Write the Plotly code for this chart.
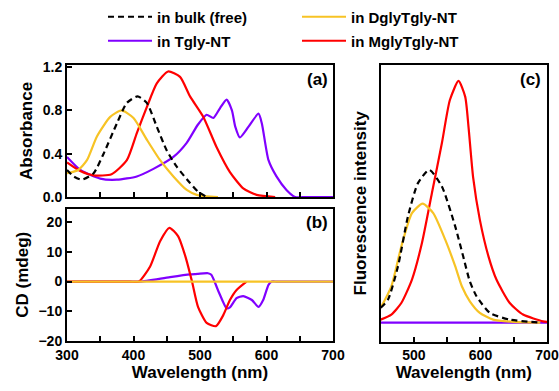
import plotly.graph_objects as go

# ---------------- data ----------------
# (a) absorbance
abs_bulk_wl = [300, 310, 322, 340, 355, 375, 390, 406, 420, 435, 450, 465, 485, 497, 510]
abs_bulk = [0.25, 0.19, 0.16, 0.22, 0.40, 0.68, 0.87, 0.93, 0.87, 0.65, 0.43, 0.28, 0.13, 0.05, 0.0]

abs_dgly_wl = [300, 317, 330, 345, 365, 382, 400, 420, 440, 460, 480, 495, 510, 527]
abs_dgly = [0.22, 0.25, 0.34, 0.56, 0.74, 0.80, 0.73, 0.53, 0.34, 0.19, 0.065, 0.02, 0.005, 0.0]

abs_tgly_wl = [300, 320, 350, 375, 405, 430, 460, 480, 497, 510, 520, 530, 540, 548, 553, 560,
               573, 588, 593, 603, 615, 630, 643, 660, 700]
abs_tgly = [0.37, 0.25, 0.17, 0.16, 0.19, 0.26, 0.37, 0.50, 0.67, 0.76, 0.73, 0.82, 0.90, 0.80,
            0.65, 0.55, 0.65, 0.77, 0.68, 0.34, 0.19, 0.065, 0.0, 0.0, 0.0]

abs_mgly_wl = [300, 320, 340, 367, 390, 405, 420, 435, 452, 470, 485, 505, 525, 545, 565, 585, 613]
abs_mgly = [0.32, 0.24, 0.20, 0.21, 0.34, 0.59, 0.83, 1.05, 1.16, 1.11, 0.93, 0.74, 0.46, 0.23,
            0.08, 0.02, 0.0]

# (b) circular dichroism
cd_dgly_wl = [300, 700]
cd_dgly = [0, 0]

cd_tgly_wl = [300, 350, 400, 410, 455, 485, 497, 512, 517, 528, 540, 545, 555, 565, 578, 588, 595,
              603, 608, 615, 650, 700]
cd_tgly = [0, 0, 0, 0, 1.5, 2.4, 2.6, 2.8, 2.3, -3.4, -9.0, -8.7, -5.6, -4.9, -6.2, -8.5, -6.2,
           -1.1, 0, 0, 0, 0]

cd_mgly_wl = [300, 350, 395, 408, 425, 440, 454, 467, 478, 488, 497, 510, 524, 535, 545, 555, 570]
cd_mgly = [0, 0, 0, 0, 5.1, 13.6, 18.1, 15.3, 8.5, 0, -8.5, -13.9, -15.0, -11.3, -6.2, -2.8, 0]

# (c) fluorescence
fl_bulk_wl = [450, 461, 476, 491, 506, 523, 542, 562, 574, 584, 594, 614, 644, 690]
fl_bulk = [0.061, 0.095, 0.233, 0.44, 0.577, 0.632, 0.563, 0.398, 0.274, 0.17, 0.109, 0.04, 0.012, 0.0]

fl_dgly_wl = [450, 466, 481, 497, 513, 529, 547, 562, 572, 584, 599, 619, 650, 690]
fl_dgly = [0.061, 0.15, 0.315, 0.453, 0.492, 0.453, 0.343, 0.233, 0.15, 0.088, 0.04, 0.012, 0.003, 0.0]

fl_tgly_wl = [450, 700]
fl_tgly = [0, 0]

fl_mgly_wl = [450, 466, 481, 497, 512, 527, 542, 554, 567, 577, 582, 589, 599, 612, 624, 644, 664, 694, 700]
fl_mgly = [0.012, 0.033, 0.081, 0.178, 0.329, 0.536, 0.743, 0.921, 1.0, 0.935, 0.81, 0.60, 0.426,
           0.274, 0.178, 0.081, 0.033, 0.005, 0.003]

names = ["in bulk (free)", "in DglyTgly-NT", "in Tgly-NT", "in MglyTgly-NT"]
colors = {"bulk": "#000000", "dgly": "#F7C325", "tgly": "#8000FF", "mgly": "#FF0000"}

x_ticks = [300, 350, 400, 450, 500, 550, 600, 650, 700]
x_ticktext = ["300", "", "400", "", "500", "", "600", "", "700"]

# ---------------- figure ----------------
FONT = "Liberation Sans, Arial, sans-serif"
fig = go.Figure()
LW = 2.2


def add(x, y, key, xa, ya, name=None, legend=None, dash="solid"):
    fig.add_trace(go.Scatter(
        x=x, y=y, mode="lines", xaxis=xa, yaxis=ya,
        line=dict(color=colors[key], width=LW, dash=dash, shape="spline", smoothing=0.6),
        name=name, showlegend=legend is not None, legend=legend or "legend",
        hoverinfo="skip"))


DASH = "6px,4px"
# panel a
add(abs_tgly_wl, abs_tgly, "tgly", "x", "y", names[2], "legend2")
add(abs_mgly_wl, abs_mgly, "mgly", "x", "y", names[3], "legend4")
add(abs_dgly_wl, abs_dgly, "dgly", "x", "y", names[1], "legend3")
add(abs_bulk_wl, abs_bulk, "bulk", "x", "y", names[0], "legend", dash=DASH)
# panel b
add(cd_tgly_wl, cd_tgly, "tgly", "x2", "y2")
add(cd_mgly_wl, cd_mgly, "mgly", "x2", "y2")
add(cd_dgly_wl, cd_dgly, "dgly", "x2", "y2")
# panel c
add(fl_tgly_wl, fl_tgly, "tgly", "x3", "y3")
add(fl_mgly_wl, fl_mgly, "mgly", "x3", "y3")
add(fl_dgly_wl, fl_dgly, "dgly", "x3", "y3")
add(fl_bulk_wl, fl_bulk, "bulk", "x3", "y3", dash=DASH)

W, H = 559, 391
def px(x):
    return x / W
def py(y):
    return 1 - y / H

tickfont = dict(family=FONT, size=14, color="black", weight="bold")
titlefont = dict(family=FONT, size=17, color="black", weight="bold")
axis_common = dict(showline=True, linecolor="black", linewidth=2, mirror=True,
                   ticks="inside", ticklen=5, tickwidth=1.5, tickcolor="black",
                   showgrid=False, zeroline=False, tickfont=tickfont, automargin=False)

xa_dom = [px(67), px(333)]
xc_dom = [px(380.7), px(547)]

fig.update_layout(
    width=W, height=H, margin=dict(l=0, r=0, t=0, b=0, autoexpand=False),
    plot_bgcolor="white", paper_bgcolor="white",
    font=dict(family=FONT, color="black"),
    xaxis=dict(domain=xa_dom, range=[300, 700], anchor="y", tickvals=x_ticks,
               showticklabels=False, **axis_common),
    yaxis=dict(domain=[py(197), py(65)], range=[0, 1.22], anchor="x",
               tickvals=[0, 0.4, 0.8, 1.2], ticktext=["0.0", "0.4", "0.8", "1.2"],
               title=dict(text="Absorbance", font=titlefont, standoff=6), **axis_common),
    xaxis2=dict(domain=xa_dom, range=[300, 700], anchor="y2", tickvals=x_ticks,
                ticktext=x_ticktext,
                title=dict(text="Wavelength (nm)", font=titlefont, standoff=4), **axis_common),
    yaxis2=dict(domain=[py(341), py(208.5)], range=[-20, 24.6], anchor="x2",
                tickvals=[-20, -10, 0, 10, 20],
                title=dict(text="CD (mdeg)", font=titlefont, standoff=6), **axis_common),
    xaxis3=dict(domain=xc_dom, range=[450, 700], anchor="y3",
                tickvals=[450, 500, 550, 600, 650, 700],
                ticktext=["", "500", "", "600", "", "700"],
                title=dict(text="Wavelength (nm)", font=titlefont, standoff=4), **axis_common),
    yaxis3=dict(domain=[py(341.5), py(65)], range=[-0.0785, 1.066], anchor="x3",
                showticklabels=False, ticks="", automargin=False,
                showline=True, linecolor="black", linewidth=2, mirror=True,
                showgrid=False, zeroline=False,
                title=dict(text="Fluorescence intensity", font=titlefont, standoff=8)),
    showlegend=True,
)

legfont = dict(family=FONT, size=15, color="black", weight="bold")
legpos = {"legend": (103, 17), "legend2": (103, 41), "legend3": (297, 17), "legend4": (297, 41)}
for k, (lx, ly) in legpos.items():
    fig.update_layout({k: dict(x=px(lx), y=py(ly), xanchor="left", yanchor="middle",
                               font=legfont, bgcolor="rgba(0,0,0,0)", borderwidth=0,
                               itemwidth=44)})

for txt, ax, ay in [("(a)", 330, 80), ("(b)", 330, 222), ("(c)", 543, 80)]:
    fig.add_annotation(text=txt, x=px(ax), y=py(ay), xref="paper", yref="paper",
                       xanchor="right", yanchor="middle", showarrow=False,
                       font=dict(family=FONT, size=17, color="black", weight="bold"))

fig.write_html("out.html", config={"displayModeBar": False},
               post_script="document.body.style.margin='0';document.body.style.overflow='hidden';")
